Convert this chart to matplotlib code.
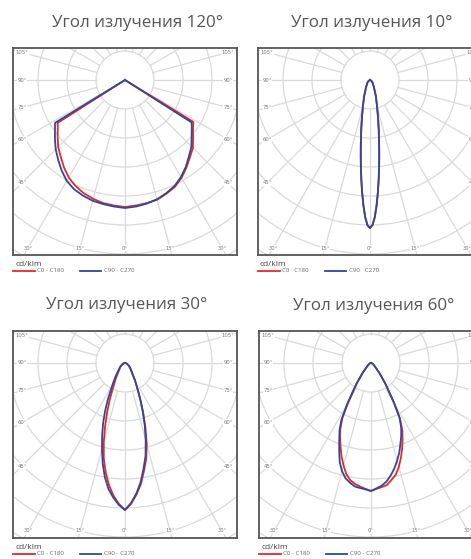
import numpy as np
import matplotlib
matplotlib.use("Agg")
import matplotlib.pyplot as plt
from matplotlib.lines import Line2D
from matplotlib.patches import Circle

W, H = 471, 559

titles = ["Угол излучения 120°", "Угол излучения 10°", "Угол излучения 30°", "Угол излучения 60°"]
red_names = ["C0 - C180", "C0   C180", "C0 - C180", "C0 - C180"]
blue_names = ["C90 - C270", "C90   C270", "C90 - C270", "C90 - C270"]
unit = "cd/klm"

# intensity, same scale for every panel (one grid ring = 29)
ang_120 = [0, 5, 10, 15, 20, 25, 30, 35, 40, 45, 50, 55, 57.5, 58.5, 90]
c0_120 = [127, 126, 125, 124, 121, 118, 113, 107, 101, 96, 89, 83, 81, 80, 0]
c180_120 = [127, 126, 125, 123, 120.5, 117, 112.5, 106.5, 100, 94.5, 88, 82, 80, 0, 0]
c90_120 = [128, 127, 125.5, 123.5, 120.5, 117, 112, 106, 99.5, 94, 87, 81.5, 79, 0, 0]
c270_120 = [128, 127, 126, 125, 123, 120.5, 116.5, 110.5, 104, 98, 91.5, 85.5, 83, 82, 0]

ang_10 = [0, 1, 2, 3, 4, 5, 6, 7, 8, 10, 12, 15, 20, 30, 45, 60, 90]
c0_10 = [148, 145, 137.5, 126, 113, 100, 87.5, 76, 66, 50.5, 39, 27.5, 17, 7.5, 3.5, 1.5, 0]
c180_10 = [148, 145, 137, 125.5, 112.5, 99.5, 87, 76, 66, 50.5, 39, 27.5, 17, 7.5, 3.5, 1.5, 0]
c90_10 = [148, 145, 137, 125.5, 112.5, 99.5, 87, 75.5, 65.5, 50, 38.5, 27, 17, 7.5, 3.5, 1.5, 0]
c270_10 = [148, 145.5, 137.5, 126, 113, 100, 87.5, 76, 66, 50.5, 39, 27.5, 17, 7.5, 3.5, 1.5, 0]

ang_30 = [0, 2.5, 5, 7.5, 10, 12.5, 15, 17.5, 20, 22.5, 25, 30, 35, 40, 50, 60, 75, 90]
c0_30 = [147, 141, 132, 122, 109.5, 98, 84, 68, 53.5, 41, 31.5, 20, 12.5, 9.5, 6, 3.5, 1.5, 0]
c180_30 = [147, 141, 133, 123, 111, 98, 82, 66, 52, 40, 30, 19, 12.5, 9, 6, 3.5, 1.5, 0]
c90_30 = [147, 140, 131, 120, 107, 95, 80, 66, 52, 40.5, 31, 20, 12.5, 9.5, 6, 3.5, 1.5, 0]
c270_30 = [147, 142, 135, 127, 116, 103, 89, 76, 64, 52, 41, 25, 16.5, 11, 6.5, 4, 1.5, 0]

ang_60 = [0, 2.5, 5, 7.5, 10, 12.5, 15, 17.5, 20, 22.5, 25, 27.5, 30, 32.5, 35, 40, 45, 50, 60, 75, 90]
c0_60 = [128, 126, 124.5, 123, 118.5, 114.5, 107.5, 99.5, 91, 82.5, 74, 63, 46, 32.5, 24.5, 13, 7, 4.5, 2.5, 1, 0]
c180_60 = [128, 126, 124, 122, 119, 114, 106, 98, 89, 81, 72.5, 62, 45.5, 32.5, 24.5, 13, 7, 4.5, 2.5, 1, 0]
c90_60 = [128, 125.5, 123, 119.5, 114, 108, 101, 94, 86, 79, 71.5, 62, 46, 32.5, 24.5, 13, 7, 4.5, 2.5, 1, 0]
c270_60 = [128, 126.5, 125.5, 124.5, 121.5, 118, 112, 104, 93, 83, 74.5, 64, 48, 34, 25.5, 13.5, 7, 4.5, 2.5, 1, 0]

RING = 29
RED = "#e8262d"
BLUE = "#2c4a9a"
GRID = "#d9d9d9"

fig = plt.figure(figsize=(W / 100, H / 100), dpi=100)
fig.patch.set_facecolor("white")


def curve(ang, right, left):
    a = np.radians(np.concatenate([ang[::-1], ang]))
    r = np.concatenate([np.array(left)[::-1], right])
    s = np.concatenate([-np.ones(len(ang)), np.ones(len(ang))])
    return s * r * np.sin(a), -r * np.cos(a)


def panel(left, top, title, tx, ty, ang, c0, c180, c90, c270, rname, bname):
    ax = fig.add_axes([left / W, 1 - (top + 207) / H, 224 / W, 207 / H])
    ax.set_xlim(-112, 112)
    ax.set_ylim(-175, 32)
    ax.set_xticks([])
    ax.set_yticks([])
    for sp in ax.spines.values():
        sp.set_color("#555555")
        sp.set_linewidth(1.3)

    for k in range(1, 9):
        ax.add_patch(Circle((0, 0), RING * k, fill=False, ec=GRID, lw=0.9, zorder=1))
    for d in range(0, 360, 15):
        t = np.radians(d)
        dx, dy = np.sin(t), -np.cos(t)
        ax.plot([RING * dx, 300 * dx], [RING * dy, 300 * dy], color=GRID, lw=0.9, zorder=1)

    for d in range(0, 106, 15):
        t = np.radians(d)
        for side in ([1] if d == 0 else [-1, 1]):
            dx, dy = side * np.sin(t), -np.cos(t)
            tt = []
            if abs(dx) > 1e-9:
                tt.append(103 / abs(dx))
            if dy < -1e-9:
                tt.append(168 / -dy)
            k = min(tt)
            ax.text(k * dx, k * dy, f"{d}°", fontsize=3.8, color="#777777",
                    ha="center", va="center", zorder=3,
                    bbox=dict(fc="white", ec="none", pad=0.4))

    a = np.array(ang)
    x, y = curve(a, c0, c180)
    ax.plot(x, y, color=RED, lw=1.3, zorder=4)
    x, y = curve(a, c90, c270)
    ax.plot(x, y, color=BLUE, lw=1.3, zorder=4)

    fig.text(tx / W, 1 - ty / H, title, ha="center", va="center", fontsize=12.2,
             color="#555555", family=["Open Sans", "DejaVu Sans"])

    bottom = top + 207
    fig.text((left + 2) / W, 1 - (bottom + 9.5) / H, unit, ha="left", va="center",
             fontsize=6, color="#444444", family=["Open Sans", "DejaVu Sans"])
    ly = 1 - (bottom + 15.5) / H
    fig.add_artist(Line2D([left / W, (left + 22) / W], [ly, ly], color=RED, lw=1.3,
                          transform=fig.transFigure))
    fig.text((left + 24) / W, ly, rname, ha="left", va="center", fontsize=4.4,
             color="#666666", family=["Open Sans", "DejaVu Sans"])
    fig.add_artist(Line2D([(left + 67) / W, (left + 88) / W], [ly, ly], color=BLUE, lw=1.3,
                          transform=fig.transFigure))
    fig.text((left + 91) / W, ly, bname, ha="left", va="center", fontsize=4.4,
             color="#666666", family=["Open Sans", "DejaVu Sans"])


panel(13, 48, titles[0], 137, 23, ang_120, c0_120, c180_120, c90_120, c270_120, red_names[0], blue_names[0])
panel(258, 48, titles[1], 372, 23, ang_10, c0_10, c180_10, c90_10, c270_10, red_names[1], blue_names[1])
panel(13, 331, titles[2], 127, 305, ang_30, c0_30, c180_30, c90_30, c270_30, red_names[2], blue_names[2])
panel(259, 331, titles[3], 373.5, 306.5, ang_60, c0_60, c180_60, c90_60, c270_60, red_names[3], blue_names[3])

fig.savefig("out.png", dpi=100, facecolor="white")
